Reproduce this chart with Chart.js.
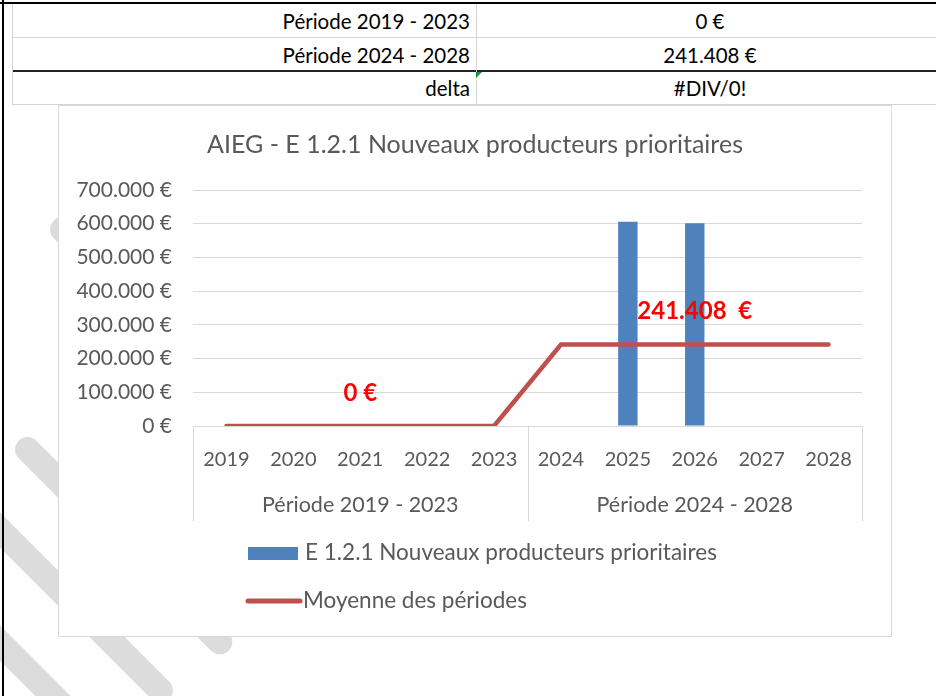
<!DOCTYPE html>
<html>
<head>
<meta charset="utf-8">
<script src="https://cdn.jsdelivr.net/npm/chart.js@4.4.0/dist/chart.umd.min.js"></script>
<style>
html, body { margin: 0; padding: 0; background: #fff; }
body { width: 936px; height: 696px; overflow: hidden; position: relative; font-family: Lato, sans-serif; }
.stripe { position: absolute; height: 25px; background: #dcdcdc; border-radius: 12.5px; transform-origin: 12.5px 12.5px; transform: rotate(45deg); }
.hl { position: absolute; height: 1px; background: #d4d4d4; }
.vl { position: absolute; width: 1px; background: #d4d4d4; }
.cell { position: absolute; height: 33px; line-height: 33px; font-size: 20.5px; color: #000; }
#box { position: absolute; left: 58px; top: 105px; width: 834px; height: 532px; box-sizing: border-box; border: 1px solid #d9d9d9; background: #fff; }
#wrap { position: relative; width: 832px; height: 530px; }
</style>
</head>
<body>

<!-- rayures grises derrière le graphique -->
<div class="stripe" style="left:49.5px; top:216.5px; width:275px;"></div>
<div class="stripe" style="left:15px; top:437px; width:297px;"></div>
<div class="stripe" style="left:-72.5px; top:457.5px; width:336px;"></div>
<div class="stripe" style="left:-72.5px; top:570.5px; width:251px;"></div>

<!-- bordures de la feuille -->
<div style="position:absolute; left:2px; top:0; width:2px; height:696px; background:#000;"></div>
<div style="position:absolute; left:0; top:2px; width:936px; height:2px; background:#000;"></div>

<!-- tableau -->
<div class="hl" style="left:12px; top:37px; width:924px;"></div>
<div style="position:absolute; left:12px; top:70px; width:924px; height:2px; background:#222;"></div>
<div class="hl" style="left:12px; top:104px; width:924px;"></div>
<div class="vl" style="left:12px; top:4px; height:101px;"></div>
<div class="vl" style="left:476px; top:4px; height:101px;"></div>
<div id="tbl"></div>
<div style="position:absolute; left:476px; top:72px; width:0; height:0; border-top:6px solid #1e8e3e; border-right:6px solid transparent;"></div>

<div id="box"><div id="wrap"><canvas id="chart" width="832" height="530"></canvas></div></div>

<script>
// ======================= DONNÉES =======================
const years = ["2019", "2020", "2021", "2022", "2023", "2024", "2025", "2026", "2027", "2028"];
const periods = ["Période 2019 - 2023", "Période 2024 - 2028"];
const periodYears = [5, 5];
const producteurs = [0, 0, 0, 0, 0, 0, 605500, 601540, 0, 0];
const moyenne = [0, 0, 0, 0, 0, 241408, 241408, 241408, 241408, 241408];
const moyenneLabels = ["0 €", "241.408  €"];
const tableLabels = ["Période 2019 - 2023", "Période 2024 - 2028", "delta"];
const tableValues = ["0 €", "241.408 €", "#DIV/0!"];

const titre = "AIEG - E 1.2.1 Nouveaux producteurs prioritaires";
const serieBarres = "E 1.2.1 Nouveaux producteurs prioritaires";
const serieLigne = "Moyenne des périodes";

const GRIS = "#595959";
const BLEU = "#4f81bd";
const ROUGE = "#c0504d";

function euro(v) {
    return String(v).replace(/\B(?=(\d{3})+(?!\d))/g, ".") + " €";
}

// ======================= TABLEAU =======================
const tbl = document.getElementById("tbl");
tableLabels.forEach((lab, i) => {
    const top = 5 + i * 33.5;
    const l = document.createElement("div");
    l.className = "cell";
    l.style.cssText = `left:12px; width:458px; text-align:right; top:${top}px;`;
    l.textContent = lab;
    tbl.appendChild(l);
    const v = document.createElement("div");
    v.className = "cell";
    v.style.cssText = `left:476px; width:468px; text-align:center; top:${top}px;`;
    v.textContent = tableValues[i];
    tbl.appendChild(v);
});

// ==== séparateurs des périodes + libellés de moyenne + légende ====
const excelPlugin = {
    id: "excelPlugin",
    afterDraw(chart) {
        const ctx = chart.ctx;
        const x = chart.scales.x;
        const x2 = chart.scales.x2;
        const area = chart.chartArea;
        const step = x.getPixelForValue(1) - x.getPixelForValue(0);

        // lignes verticales de l'axe à plusieurs niveaux
        ctx.save();
        ctx.strokeStyle = "#d9d9d9";
        ctx.lineWidth = 1;
        let idx = 0;
        const bounds = [0];
        periodYears.forEach(n => { idx += n; bounds.push(idx); });
        bounds.forEach(b => {
            const px = Math.round(x.getPixelForValue(0) - step / 2 + b * step) + 0.5;
            ctx.beginPath();
            ctx.moveTo(px, area.bottom);
            ctx.lineTo(px, x2.bottom);
            ctx.stroke();
        });

        // libellés de moyenne (au milieu de chaque période)
        ctx.fillStyle = "#ff0000";
        ctx.font = "bold 24px Lato";
        ctx.textAlign = "center";
        ctx.textBaseline = "middle";
        const meta = chart.getDatasetMeta(1);
        let start = 0;
        periodYears.forEach((n, p) => {
            const mid = start + Math.floor(n / 2);
            const pt = meta.data[mid];
            ctx.fillText(moyenneLabels[p], pt.x, pt.y - 33);
            start += n;
        });

        // légende
        const lx = area.left + 55;
        const ly = area.bottom + 127;
        ctx.fillStyle = BLEU;
        ctx.fillRect(lx, ly - 6, 50, 13);
        ctx.strokeStyle = ROUGE;
        ctx.lineWidth = 5;
        ctx.lineCap = "round";
        ctx.beginPath();
        ctx.moveTo(lx, ly + 48);
        ctx.lineTo(lx + 52, ly + 48);
        ctx.stroke();
        ctx.fillStyle = GRIS;
        ctx.font = "22.5px Lato";
        ctx.textAlign = "left";
        ctx.fillText(serieBarres, lx + 57, ly);
        ctx.fillText(serieLigne, lx + 55, ly + 48);
        ctx.restore();
    }
};

// ======================= GRAPHIQUE =======================
new Chart(document.getElementById("chart"), {
    type: "bar",
    data: {
        labels: years,
        datasets: [{
            type: "bar",
            label: serieBarres,
            data: producteurs,
            backgroundColor: BLEU,
            barPercentage: 0.29,
            categoryPercentage: 1,
            order: 1
        }, {
            type: "line",
            label: serieLigne,
            data: moyenne,
            borderColor: ROUGE,
            borderWidth: 4.5,
            borderCapStyle: "round",
            borderJoinStyle: "miter",
            pointRadius: 0,
            tension: 0,
            order: 0
        }]
    },
    options: {
        responsive: false,
        animation: false,
        devicePixelRatio: 1,
        layout: { padding: { left: 0, right: 0, top: 0, bottom: 115 } },
        plugins: {
            legend: { display: false },
            tooltip: { enabled: false },
            title: {
                display: true,
                text: titre,
                color: GRIS,
                font: { family: "Lato", size: 25, weight: "normal" },
                padding: { top: 24, bottom: 30 }
            }
        },
        scales: {
            y: {
                min: 0,
                max: 700000,
                ticks: {
                    stepSize: 100000,
                    color: GRIS,
                    padding: 21,
                    font: { family: "Lato", size: 21 },
                    callback: v => euro(v)
                },
                grid: { color: "#d9d9d9", drawTicks: false },
                border: { display: false },
                afterFit: s => { s.width = 134; }
            },
            // marge droite (axe vide)
            marge: {
                type: "linear",
                position: "right",
                ticks: { display: false },
                grid: { display: false },
                border: { display: false },
                afterFit: s => { s.width = 29; }
            },
            x: {
                weight: 0,
                ticks: { color: GRIS, padding: 14, maxRotation: 0, font: { family: "Lato", size: 20 } },
                grid: { display: false },
                border: { display: true, color: "#d9d9d9" },
                afterFit: s => { s.height = 55; }
            },
            x2: {
                type: "category",
                position: "bottom",
                weight: 1,
                labels: periods,
                offset: true,
                ticks: { color: GRIS, padding: 3, maxRotation: 0, font: { family: "Lato", size: 21.5 } },
                grid: { display: false },
                border: { display: false },
                afterFit: s => { s.height = 40; }
            }
        }
    },
    plugins: [excelPlugin]
});
</script>
</body>
</html>
